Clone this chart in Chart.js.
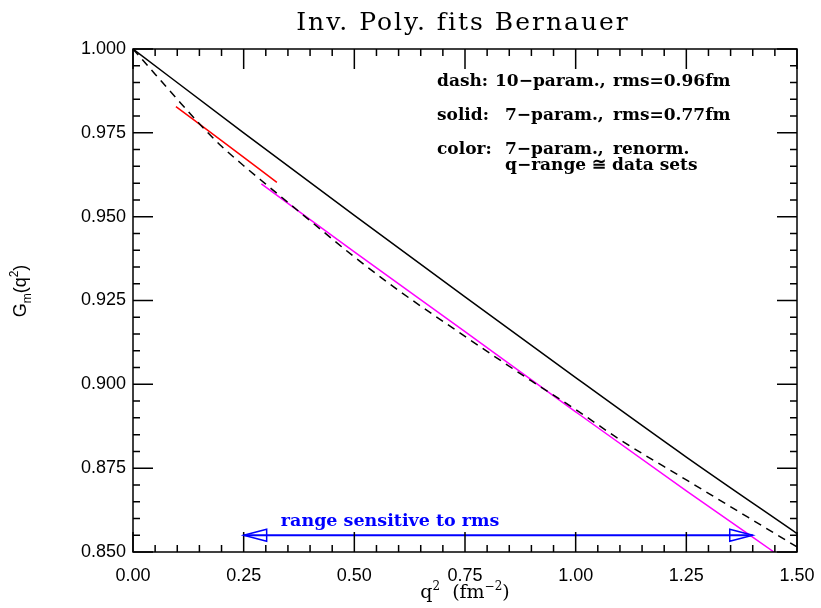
<!DOCTYPE html>
<html>
<head>
<meta charset="utf-8">
<title>Inv. Poly. fits Bernauer</title>
<script src="https://cdn.jsdelivr.net/npm/chart.js@4.4.1/dist/chart.umd.min.js"></script>
<style>
  body { margin: 0; background: #ffffff; }
  canvas { display: block; }
</style>
</head>
<body>
<canvas id="fitChart" width="821" height="608"></canvas>
<script>
// dashed curve: 10-parameter fit
const dashX = [0, 0.05, 0.10, 0.15, 0.20, 0.25, 0.30, 0.40, 0.50, 0.60, 0.75, 0.90, 1.00, 1.10, 1.25, 1.40, 1.50];
const dashY = [1.0, 0.9925, 0.9850, 0.9777, 0.9710, 0.9652, 0.9597, 0.9488, 0.9380, 0.9280, 0.9143, 0.9010, 0.8925, 0.8835, 0.8715, 0.8595, 0.8515];

// solid curve: 7-parameter fit
const solidX = [0, 0.25, 0.50, 0.75, 1.00, 1.25, 1.50];
const solidY = [1.0, 0.9750, 0.9504, 0.9261, 0.9020, 0.8783, 0.8555];

// coloured curves: 7-param. renormalized, q-range of the data sets
const redX = [0.097, 0.20, 0.325];
const redY = [0.9828, 0.9727, 0.9602];
const magentaX = [0.29, 0.50, 0.75, 1.00, 1.25, 1.448];
const magentaY = [0.9598, 0.9395, 0.9157, 0.8918, 0.8682, 0.8500];

// arrow "range sensitive to rms"
const arrowX = [0.25, 1.40];
const arrowY = [0.855, 0.855];
const arrowLabel = "range sensitive to rms";

// tick labels
const xTicks = [0, 0.25, 0.50, 0.75, 1.00, 1.25, 1.50];
const yTicks = [0.850, 0.875, 0.900, 0.925, 0.950, 0.975, 1.000];

const titleText = "Inv. Poly. fits Bernauer";
const notes = [
  ["dash:", "10\u2212param.,", "rms=0.96fm"],
  ["solid:", "7\u2212param.,", "rms=0.77fm"],
  ["color:", "7\u2212param.,", "renorm."],
  ["", "q\u2212range \u2245 data sets", ""]
];

function toPoints(xs, ys) {
  return xs.map((x, i) => ({ x: x, y: ys[i] }));
}

const serif = "'DejaVu Serif', 'Liberation Serif', serif";
const sans = "'Liberation Sans', Arial, sans-serif";

// draws the frame, inward ticks, arrow heads and all the extra text
const decorations = {
  id: "decorations",
  afterDatasetsDraw(chart) {
    const ctx = chart.ctx;
    const xs = chart.scales.x;
    const ys = chart.scales.y;
    const area = chart.chartArea;

    ctx.save();
    ctx.strokeStyle = "#000";
    ctx.lineWidth = 1.5;
    ctx.strokeRect(area.left, area.top, area.right - area.left, area.bottom - area.top);

    // x ticks every 0.05, major every 0.25
    ctx.beginPath();
    for (let i = 0; i <= 30; i++) {
      const px = xs.getPixelForValue(i * 0.05);
      const len = i % 5 === 0 ? 20 : 7;
      ctx.moveTo(px, area.bottom);
      ctx.lineTo(px, area.bottom - len);
      ctx.moveTo(px, area.top);
      ctx.lineTo(px, area.top + len);
    }
    // y ticks every 0.005, major every 0.025
    for (let i = 0; i <= 30; i++) {
      const py = ys.getPixelForValue(0.85 + i * 0.005);
      const len = i % 5 === 0 ? 20 : 7;
      ctx.moveTo(area.left, py);
      ctx.lineTo(area.left + len, py);
      ctx.moveTo(area.right, py);
      ctx.lineTo(area.right - len, py);
    }
    ctx.stroke();

    // open arrow heads
    const ay = ys.getPixelForValue(arrowY[0]);
    const x0 = xs.getPixelForValue(arrowX[0]);
    const x1 = xs.getPixelForValue(arrowX[1]);
    ctx.strokeStyle = "#0000ff";
    ctx.lineWidth = 1.5;
    ctx.beginPath();
    ctx.moveTo(x0, ay);
    ctx.lineTo(x0 + 23, ay - 6);
    ctx.lineTo(x0 + 23, ay + 6);
    ctx.closePath();
    ctx.moveTo(x1, ay);
    ctx.lineTo(x1 - 23, ay - 6);
    ctx.lineTo(x1 - 23, ay + 6);
    ctx.closePath();
    ctx.stroke();

    ctx.fillStyle = "#0000ff";
    ctx.font = "bold 17.5px " + serif;
    ctx.textBaseline = "alphabetic";
    ctx.textAlign = "left";
    ctx.fillText(arrowLabel, xs.getPixelForValue(0.334), ay - 9);

    // title
    ctx.fillStyle = "#000";
    ctx.font = "25px " + serif;
    ctx.letterSpacing = "2px";
    ctx.textAlign = "center";
    ctx.fillText(titleText, 463, 30);
    ctx.letterSpacing = "0px";

    // notes
    ctx.textAlign = "left";
    ctx.font = "bold 17px " + serif;
    const rowY = [86, 120, 154, 170];
    notes.forEach((row, r) => {
      if (row[0]) ctx.fillText(row[0], 437, rowY[r]);
      ctx.fillText(row[1], r === 0 ? 495 : 505, rowY[r]);
      if (row[2]) ctx.fillText(row[2], 613, rowY[r]);
    });

    // x axis title: q^2 (fm^-2)
    const big = "19px " + serif, small = "12px " + serif;
    const parts = [["q", big, 0], ["2", small, -8], ["  (fm", big, 0], ["\u22122", small, -8], [")", big, 0]];
    let total = 0;
    parts.forEach(p => { ctx.font = p[1]; total += ctx.measureText(p[0]).width; });
    let cx = (area.left + area.right) / 2 - total / 2;
    parts.forEach(p => {
      ctx.font = p[1];
      ctx.fillText(p[0], cx, 598 + p[2]);
      cx += ctx.measureText(p[0]).width;
    });

    // y axis title: G_m(q^2)
    ctx.translate(26, 291);
    ctx.rotate(-Math.PI / 2);
    const yBig = "18px " + sans, ySmall = "12px " + sans;
    const yParts = [["G", yBig, 0], ["m", ySmall, 5], ["(q", yBig, 0], ["2", ySmall, -8], [")", yBig, 0]];
    total = 0;
    yParts.forEach(p => { ctx.font = p[1]; total += ctx.measureText(p[0]).width; });
    cx = -total / 2;
    yParts.forEach(p => {
      ctx.font = p[1];
      ctx.fillText(p[0], cx, p[2]);
      cx += ctx.measureText(p[0]).width;
    });
    ctx.restore();
  }
};

const ctx = document.getElementById("fitChart");

const myChart = new Chart(ctx, {
  type: "scatter",
  data: {
    datasets: [
      {
        data: toPoints(dashX, dashY),
        showLine: true,
        borderColor: "#000000",
        borderWidth: 1.5,
        borderDash: [8, 6],
        pointRadius: 0,
        cubicInterpolationMode: "monotone",
      },
      {
        data: toPoints(solidX, solidY),
        showLine: true,
        borderColor: "#000000",
        borderWidth: 1.5,
        pointRadius: 0,
        cubicInterpolationMode: "monotone",
      },
      {
        data: toPoints(redX, redY),
        showLine: true,
        borderColor: "#ff0000",
        borderWidth: 1.5,
        pointRadius: 0,
        cubicInterpolationMode: "monotone",
      },
      {
        data: toPoints(magentaX, magentaY),
        showLine: true,
        borderColor: "#ff00ff",
        borderWidth: 1.5,
        pointRadius: 0,
        cubicInterpolationMode: "monotone",
      },
      {
        data: toPoints(arrowX, arrowY),
        showLine: true,
        borderColor: "#0000ff",
        borderWidth: 2,
        pointRadius: 0,
      },
    ],
  },
  options: {
    responsive: false,
    animation: false,
    layout: { padding: { top: 49, right: 24, left: 0, bottom: 0 } },
    plugins: {
      legend: { display: false },
      tooltip: { enabled: false },
    },
    scales: {
      x: {
        type: "linear",
        min: 0,
        max: 1.5,
        grid: { display: false, drawTicks: false },
        border: { display: false },
        afterBuildTicks: function (scale) {
          scale.ticks = xTicks.map((v) => ({ value: v }));
        },
        afterFit: function (scale) {
          scale.height = 56;
          scale.paddingRight = 0;
          scale.paddingLeft = 0;
        },
        ticks: {
          padding: 13,
          color: "#000",
          font: { family: sans, size: 18 },
          maxRotation: 0,
          callback: (v) => v.toFixed(2),
        },
      },
      y: {
        type: "linear",
        min: 0.85,
        max: 1.0,
        grid: { display: false, drawTicks: false },
        border: { display: false },
        afterBuildTicks: function (scale) {
          scale.ticks = yTicks.map((v) => ({ value: v }));
        },
        afterFit: function (scale) {
          scale.width = 133;
        },
        ticks: {
          padding: 7,
          color: "#000",
          font: { family: sans, size: 18 },
          callback: (v) => v.toFixed(3),
        },
      },
    },
  },
  plugins: [decorations],
});
</script>
</body>
</html>
